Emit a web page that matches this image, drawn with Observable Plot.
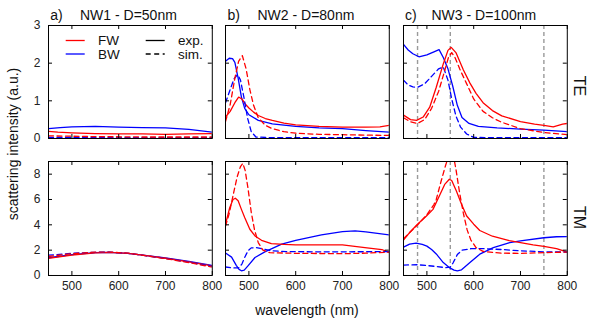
<!DOCTYPE html>
<html>
<head>
<meta charset="utf-8">
<script src="https://cdn.jsdelivr.net/npm/d3@7"></script>
<script src="https://cdn.jsdelivr.net/npm/@observablehq/plot@0.6"></script>
<style>
  body { margin: 0; background: #fff; }
  #fig { position: relative; width: 592px; height: 325px; overflow: hidden;
         font-family: "Liberation Sans", Arial, Helvetica, sans-serif; }
  #fig svg { position: absolute; overflow: visible; }
</style>
</head>
<body>
<div id="fig"></div>
<script>
// ---- axes & labels ----
const wavelengthDomain = [450, 800];
const wavelengthTicks = [500, 600, 700, 800];
const teTicks = [0, 1, 2, 3];
const tmTicks = [0, 2, 4, 6, 8];
const markerLines = [480, 550, 750];           // resonance guides for NW3
const panelLetters = ["a)", "b)", "c)"];
const panelNames = ["NW1 - D=50nm", "NW2 - D=80nm", "NW3 - D=100nm"];
const polarizations = ["TE", "TM"];

// ---- spectra: [wavelength (nm), intensity (a.u.)] ----
// NW1, TE
const nw1TeFwExp = [[450,0.19],[470,0.17],[500,0.15],[550,0.13],[600,0.12],[650,0.12],[700,0.11],[750,0.12],[800,0.13]];
const nw1TeFwSim = [[450,0.07],[500,0.06],[550,0.05],[650,0.04],[800,0.04]];
const nw1TeBwExp = [[450,0.26],[475,0.29],[500,0.31],[550,0.32],[600,0.3],[650,0.29],[700,0.28],[750,0.24],[800,0.17]];
const nw1TeBwSim = [[450,0.03],[600,0.02],[800,0.02]];
// NW2, TE
const nw2TeFwExp = [[450,0.57],[460,0.72],[470,0.95],[478,1.1],[485,1.05],[492,0.92],[500,0.81],[510,0.7],[520,0.61],[535,0.53],[550,0.48],[575,0.41],[600,0.36],[650,0.32],[700,0.3],[750,0.3],[780,0.31],[800,0.35]];
const nw2TeFwSim = [[450,0.45],[460,0.9],[470,1.6],[478,2.05],[486,2.2],[494,1.85],[502,1.3],[510,0.88],[520,0.55],[535,0.35],[550,0.26],[575,0.18],[600,0.14],[650,0.11],[700,0.1],[750,0.09],[800,0.08]];
const nw2TeBwExp = [[450,2.05],[458,2.13],[465,2.12],[470,2.02],[477,1.6],[484,1.1],[491,0.8],[500,0.63],[520,0.48],[550,0.39],[600,0.32],[650,0.28],[700,0.26],[750,0.21],[800,0.17]];
const nw2TeBwSim = [[450,0.95],[460,1.3],[468,1.58],[476,1.7],[482,1.55],[490,1.05],[497,0.55],[505,0.18],[515,0.04],[550,0.02],[800,0.02]];
// NW3, TE
const nw3TeFwExp = [[450,0.62],[465,0.5],[478,0.48],[492,0.57],[506,0.83],[520,1.36],[535,1.98],[545,2.34],[552,2.42],[562,2.28],[578,1.82],[592,1.47],[605,1.2],[620,0.95],[640,0.74],[660,0.6],[700,0.45],[730,0.38],[750,0.35],[770,0.31],[790,0.38],[800,0.4]];
const nw3TeFwSim = [[450,0.55],[465,0.44],[480,0.4],[495,0.5],[510,0.8],[525,1.25],[538,1.8],[546,2.15],[553,2.28],[560,2.15],[570,1.85],[585,1.45],[600,1.05],[620,0.72],[640,0.55],[660,0.43],[700,0.26],[750,0.16],[800,0.1]];
const nw3TeBwExp = [[450,2.5],[460,2.35],[470,2.25],[483,2.17],[500,2.22],[515,2.3],[526,2.36],[535,2.15],[545,1.85],[555,1.4],[565,0.88],[575,0.56],[590,0.4],[610,0.32],[650,0.28],[700,0.25],[750,0.22],[800,0.18]];
const nw3TeBwSim = [[450,1.55],[460,1.42],[470,1.37],[480,1.36],[495,1.45],[510,1.65],[525,1.85],[535,1.9],[545,1.55],[553,1.05],[562,0.6],[572,0.3],[585,0.12],[600,0.03],[650,0.02],[800,0.02]];
// NW1, TM
const nw1TmFwExp = [[450,1.35],[500,1.6],[550,1.78],[580,1.82],[620,1.74],[660,1.56],[700,1.36],[750,1.08],[800,0.75]];
const nw1TmFwSim = [[450,1.5],[500,1.72],[550,1.84],[580,1.85],[620,1.76],[660,1.55],[700,1.33],[750,1.02],[800,0.66]];
const nw1TmBwExp = [[450,1.4],[500,1.65],[550,1.8],[580,1.83],[620,1.75],[660,1.57],[700,1.38],[750,1.12],[800,0.8]];
const nw1TmBwSim = [[450,1.6],[500,1.75],[550,1.83],[580,1.84],[620,1.75],[660,1.55],[700,1.35],[750,1.05],[800,0.72]];
// NW2, TM
const nw2TmFwExp = [[450,4.05],[459,5.35],[466,6.0],[471,6.1],[477,5.9],[484,5.22],[491,4.57],[502,3.65],[513,3.12],[527,2.78],[548,2.52],[575,2.45],[600,2.42],[650,2.42],[700,2.42],[748,2.2],[784,2.05],[800,1.8]];
const nw2TmFwSim = [[450,3.9],[458,4.9],[466,6.3],[475,7.8],[482,8.6],[487,8.85],[492,8.3],[498,6.9],[505,5.0],[512,3.6],[520,2.6],[530,2.0],[545,1.8],[600,1.75],[700,1.72],[750,1.76],[800,1.85]];
const nw2TmBwExp = [[450,1.78],[463,1.45],[473,0.8],[479,0.48],[484,0.37],[490,0.42],[498,0.76],[513,1.42],[534,1.86],[570,2.47],[600,2.78],[655,3.2],[700,3.46],[727,3.52],[750,3.45],[800,3.2]];
const nw2TmBwSim = [[450,0.67],[465,0.6],[478,0.6],[485,0.9],[492,1.5],[498,1.95],[505,2.18],[515,2.2],[530,2.1],[550,1.95],[580,1.88],[650,1.87],[700,1.87],[800,1.88]];
// NW3, TM
const nw3TmFwExp = [[450,2.8],[463,3.39],[480,4.04],[499,4.7],[513,5.22],[528,6.4],[538,7.19],[548,7.6],[553,7.5],[563,6.67],[574,5.62],[585,4.7],[600,4.05],[613,3.55],[640,3.1],[676,2.75],[700,2.6],[727,2.42],[750,2.3],[777,2.12],[800,1.85]];
const nw3TmFwSim = [[450,2.9],[480,4.0],[500,4.8],[515,5.6],[520,6.0],[530,7.4],[540,8.7],[548,9.6],[556,9.6],[562,8.4],[570,6.5],[578,4.9],[586,3.6],[594,2.8],[605,2.2],[620,1.9],[660,1.76],[700,1.75],[750,1.8],[800,1.85]];
const nw3TmBwExp = [[450,2.24],[463,2.47],[477,2.55],[490,2.45],[500,2.32],[510,2.05],[520,1.7],[535,1.02],[549,0.6],[558,0.42],[565,0.37],[574,0.45],[592,1.02],[613,1.68],[642,2.2],[677,2.6],[700,2.73],[750,2.98],[777,3.06],[800,3.07]];
const nw3TmBwSim = [[450,0.82],[480,0.85],[510,0.75],[540,0.62],[550,0.66],[556,1.0],[565,1.65],[575,2.0],[595,2.12],[620,2.12],[660,2.05],[700,1.95],[750,1.87],[800,1.85]];

const spectra = [
  [[nw1TeFwExp, nw1TeFwSim, nw1TeBwExp, nw1TeBwSim],
   [nw2TeFwExp, nw2TeFwSim, nw2TeBwExp, nw2TeBwSim],
   [nw3TeFwExp, nw3TeFwSim, nw3TeBwExp, nw3TeBwSim]],
  [[nw1TmFwExp, nw1TmFwSim, nw1TmBwExp, nw1TmBwSim],
   [nw2TmFwExp, nw2TmFwSim, nw2TmBwExp, nw2TmBwSim],
   [nw3TmFwExp, nw3TmFwSim, nw3TmBwExp, nw3TmBwSim]]
];

// ---- layout ----
const FONT = '"Liberation Sans", Arial, Helvetica, sans-serif';
const RED = "#ff0000", BLUE = "#0000ff";
const DASH = "5,3.5";
const colLeft = [47.8, 225, 402.6];
const frameW = 163.8;
const rowSpec = [
  {top: 25, height: 113, domain: [0, 3], ticks: teTicks},
  {top: 161, height: 114, domain: [0, 9], ticks: tmTicks}
];
const M = {top: 4, right: 4, bottom: 26, left: 42};
const TICK = 4;

const fig = document.getElementById("fig");

function panel(row, col) {
  const r = rowSpec[row];
  const [fwExp, fwSim, bwExp, bwSim] = spectra[row][col];
  const line = (data, color, dash) =>
    Plot.line(data, {x: d => d[0], y: d => d[1], stroke: color, strokeWidth: 1.3,
                     strokeDasharray: dash, clip: true});
  const marks = [];
  if (col === 2) {
    marks.push(Plot.ruleX(markerLines, {x: d => d, stroke: "#9a9a9a", strokeWidth: 1.4, strokeDasharray: "4,3"}));
  }
  marks.push(
    line(bwExp, BLUE, null),
    line(fwExp, RED, null),
    line(bwSim, BLUE, DASH),
    line(fwSim, RED, DASH),
    // inward ticks on all four sides
    Plot.ruleX(wavelengthTicks, {x: d => d, insetTop: r.height - TICK, stroke: "black"}),
    Plot.ruleX(wavelengthTicks, {x: d => d, insetBottom: r.height - TICK, stroke: "black"}),
    Plot.ruleY(r.ticks, {y: d => d, insetRight: frameW - TICK, stroke: "black"}),
    Plot.ruleY(r.ticks, {y: d => d, insetLeft: frameW - TICK, stroke: "black"}),
    Plot.frame({stroke: "black", strokeWidth: 1})
  );
  if (row === 1) marks.push(Plot.axisX(wavelengthTicks, {tickSize: 0, tickPadding: 6, fontSize: 12, fill: "#222"}));
  if (col === 0) marks.push(Plot.axisY(r.ticks, {tickSize: 0, tickPadding: 8, fontSize: 12, fill: "#222"}));

  const svg = Plot.plot({
    width: frameW + M.left + M.right,
    height: r.height + M.top + M.bottom,
    marginTop: M.top, marginRight: M.right, marginBottom: M.bottom, marginLeft: M.left,
    x: {domain: wavelengthDomain, axis: null},
    y: {domain: r.domain, axis: null},
    style: {background: "none", fontFamily: FONT, fontSize: "12px", overflow: "visible"},
    marks
  });
  svg.style.left = (colLeft[col] - M.left) + "px";
  svg.style.top = (r.top - M.top) + "px";
  fig.appendChild(svg);
}

for (let row = 0; row < 2; row++) for (let col = 0; col < 3; col++) panel(row, col);

// ---- titles, row labels, axis titles and legend ----
const over = d3.select(fig).append("svg")
  .attr("width", 592).attr("height", 325)
  .style("left", "0px").style("top", "0px")
  .style("font-family", FONT).style("pointer-events", "none");

const nameLeft = [80, 257.5, 431.5];
panelLetters.forEach((t, i) => {
  over.append("text").attr("x", colLeft[i] + 2.5).attr("y", 20).attr("font-size", 14).attr("fill", "#111").text(t);
  over.append("text").attr("x", nameLeft[i]).attr("y", 20).attr("font-size", 14).attr("fill", "#111").text(panelNames[i]);
});

const rowLabelY = [86, 217.5];
polarizations.forEach((t, i) => {
  over.append("text")
    .attr("transform", `translate(574,${rowLabelY[i]}) rotate(90)`)
    .attr("text-anchor", "middle").attr("font-size", 16).attr("fill", "#111").text(t);
});

over.append("text").attr("x", 307).attr("y", 315).attr("text-anchor", "middle")
  .attr("font-size", 14).attr("fill", "#111").text("wavelength (nm)");
over.append("text").attr("transform", "translate(17.5,144) rotate(-90)")
  .attr("text-anchor", "middle").attr("font-size", 14).attr("fill", "#111")
  .text("scattering intensity (a.u.)");

const legend = [
  {x1: 65.7, x2: 84.7, y: 40.5, color: RED, dash: null, tx: 98, label: "FW"},
  {x1: 65.7, x2: 84.7, y: 54, color: BLUE, dash: null, tx: 98, label: "BW"},
  {x1: 145.7, x2: 164.7, y: 40.5, color: "#000", dash: null, tx: 178, label: "exp."},
  {x1: 145.7, x2: 164.7, y: 54, color: "#000", dash: DASH, tx: 178, label: "sim."}
];
legend.forEach(l => {
  over.append("line").attr("x1", l.x1).attr("x2", l.x2).attr("y1", l.y).attr("y2", l.y)
    .attr("stroke", l.color).attr("stroke-width", 1.3).attr("stroke-dasharray", l.dash);
  over.append("text").attr("x", l.tx).attr("y", l.y).attr("dy", "0.35em")
    .attr("font-size", 13.5).attr("fill", "#111").text(l.label);
});
</script>
</body>
</html>
